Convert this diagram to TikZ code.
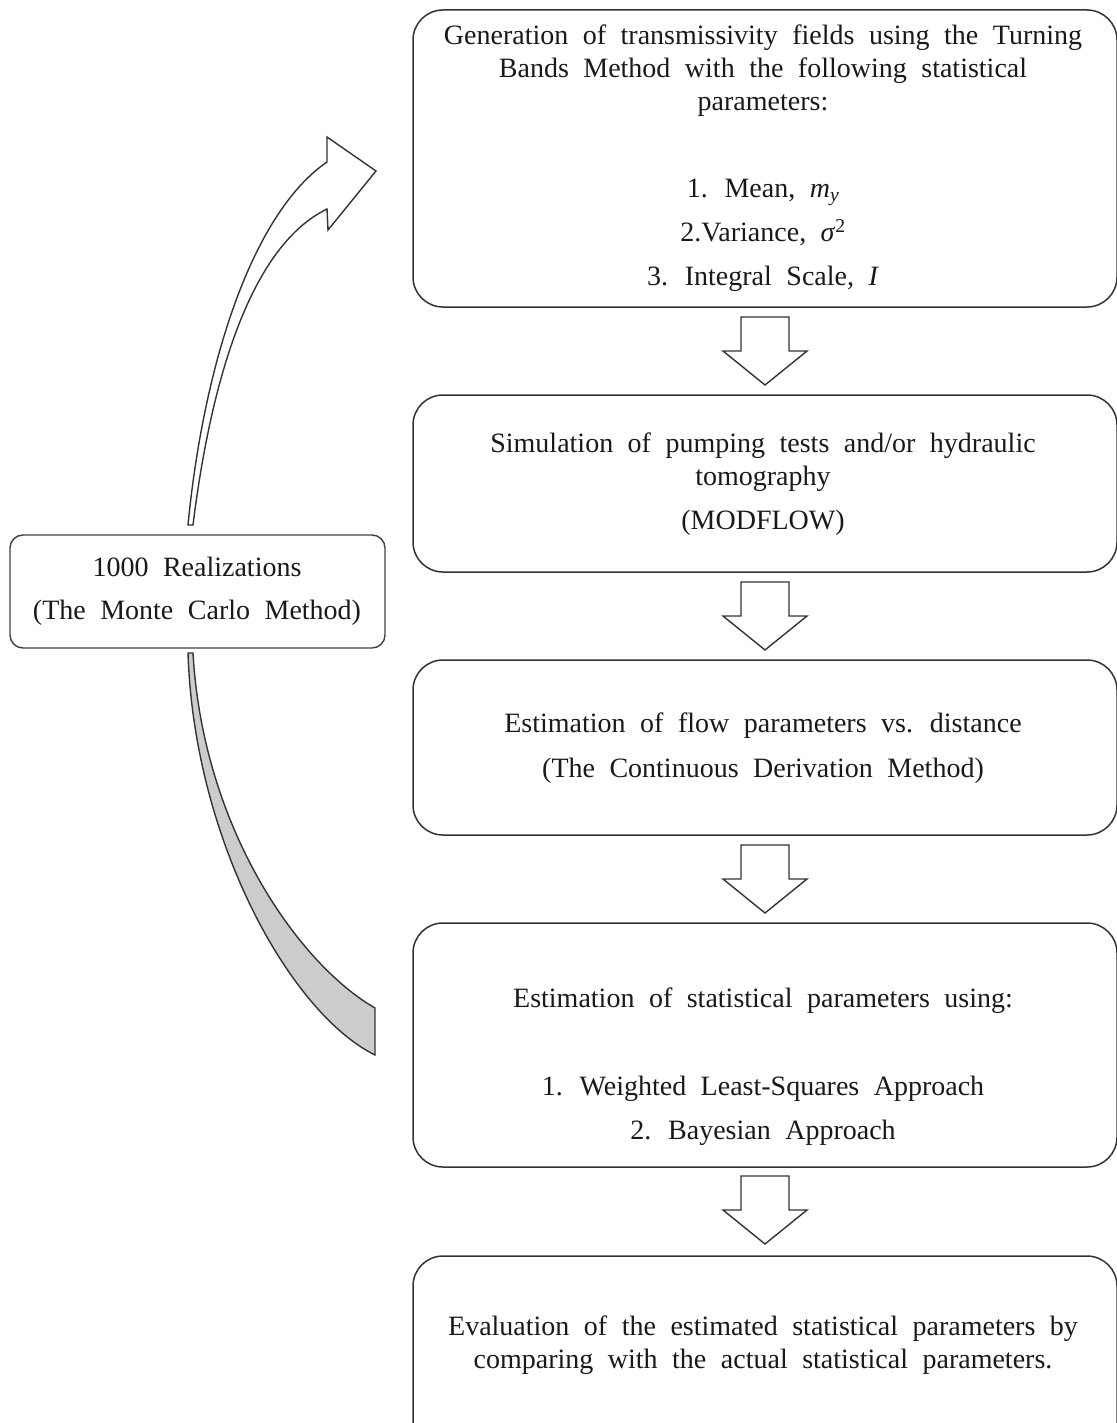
\documentclass[tikz,border=0pt]{standalone}
\usepackage{fontspec}
\setmainfont{Liberation Serif}
\newcommand\mywidesp{\spaceskip=14.5pt plus 1pt minus 1pt\relax}
\begin{document}
\begin{tikzpicture}[x=1pt,y=-1pt,
  box/.style={draw=black!80, line width=1.5pt, rounded corners=30pt, inner sep=0pt},
  sbox/.style={draw=black!75, line width=1.4pt, rounded corners=13pt, inner sep=0pt},
  txt/.style={align=center, inner sep=0pt, text=black!90, font=\fontsize{28}{33}\selectfont\mywidesp},
  arrowline/.style={draw=black!80, line width=1.4pt, line join=miter, fill=white},
  downarr/.pic={\path[arrowline] (-24,0) -- (24,0) -- (24,34) -- (42,34) -- (0,68) -- (-42,34) -- (-24,34) -- cycle;}
]
\useasboundingbox (0,0) rectangle (1116,1423);

% main boxes
\node[box, minimum width=704pt, minimum height=297pt] (b1) at (765,158.5) {};
\node[box, minimum width=704pt, minimum height=177pt] (b2) at (765,483.5) {};
\node[box, minimum width=704pt, minimum height=175pt] (b3) at (765,747.5) {};
\node[box, minimum width=704pt, minimum height=244pt] (b4) at (765,1045) {};
\node[box, minimum width=704pt, minimum height=200pt] (b5) at (765,1356) {};
\node[sbox, minimum width=375pt, minimum height=113pt] (b0) at (197.5,591.5) {};

% texts
\node[txt] (t1) at (763,158) {Generation of transmissivity fields using the Turning\\
Bands Method with the following statistical\\ parameters:\\[54pt]
1. Mean, \textit{m}\textsubscript{\textit{y}}\\[11pt]
2.Variance, \textit{σ}\textsuperscript{2}\\[11pt]
3. Integral Scale, \textit{I}};
\node[txt] (t2) at (763,484) {Simulation of pumping tests and/or hydraulic\\ tomography\\[11pt] (MODFLOW)};
\node[txt] (t3) at (763,748) {Estimation of flow parameters vs. distance\\[12pt] (The Continuous Derivation Method)};
\node[txt] (t4) at (763,1067) {Estimation of statistical parameters using:\\[55pt]
1. Weighted Least-Squares Approach\\[11pt] 2. Bayesian Approach};
\node[txt] (t5) at (763,1345) {Evaluation of the estimated statistical parameters by\\ comparing with the actual statistical parameters.};
\node[txt] (t0) at (197,591) {1000 Realizations\\[10pt] (The Monte Carlo Method)};

% block arrows between boxes
\pic (a1) at (765,317) {downarr};
\pic (a2) at (765,582) {downarr};
\pic (a3) at (765,845) {downarr};
\pic (a4) at (765,1176) {downarr};

% curved arrow up (white)
\path[arrowline, line join=miter] (188,525) .. controls (203,370) and (250,215) .. (327,162)
  -- (327,137) -- (376,171) -- (328,230) -- (327,209)
  .. controls (253,245) and (212,372) .. (193,525) -- cycle;

% curved band down (gray)
\path[draw=black!80, line width=1.4pt, fill=black!20] (188,653) .. controls (194,840) and (290,1013) .. (375,1055)
  -- (375,1008) .. controls (300,965) and (203,830) .. (193,653) -- cycle;
\end{tikzpicture}
\end{document}
